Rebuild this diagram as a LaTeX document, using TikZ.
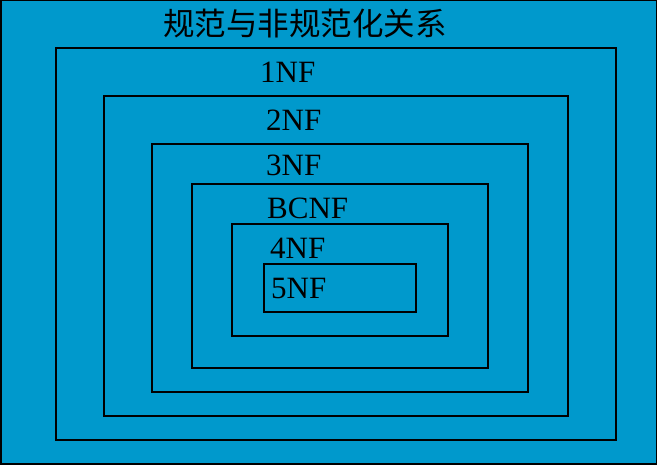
\documentclass[tikz,border=0pt]{standalone}
\usepackage{fontspec}
\setmainfont{Liberation Serif}
\newfontfamily\cjk{Noto Sans CJK SC}
\definecolor{bgblue}{HTML}{0099CC}
\begin{document}
\begin{tikzpicture}[x=1pt,y=-1pt,
  box/.style={draw=black,line width=1.1pt},
  lbl/.style={anchor=base west,inner sep=0pt,font=\fontsize{31}{31}\selectfont}]
\fill[bgblue] (0,0) rectangle (657,465);
\draw[line width=1.5pt] (0.75,0.75) rectangle (656.25,464.25);
\useasboundingbox (0,0) rectangle (657,465);
\node[anchor=center,inner sep=0pt,font=\cjk\fontsize{31.5}{31.5}\selectfont] (title) at (305,24) {规范与非规范化关系};
\draw[box] (56,48) rectangle (616,440);
\draw[box] (104,96) rectangle (568,416);
\draw[box] (152,144) rectangle (528,392);
\draw[box] (192,184) rectangle (488,368);
\draw[box] (232,224) rectangle (448,336);
\draw[box] (264,264) rectangle (416,312);
\node[lbl] (n1) at (260,83) {1NF};
\node[lbl] (n2) at (266,131) {2NF};
\node[lbl] (n3) at (266,176) {3NF};
\node[lbl] (nb) at (267,219) {BCNF};
\node[lbl] (n4) at (270,259) {4NF};
\node[lbl] (n5) at (271,299) {5NF};
\end{tikzpicture}
\end{document}
